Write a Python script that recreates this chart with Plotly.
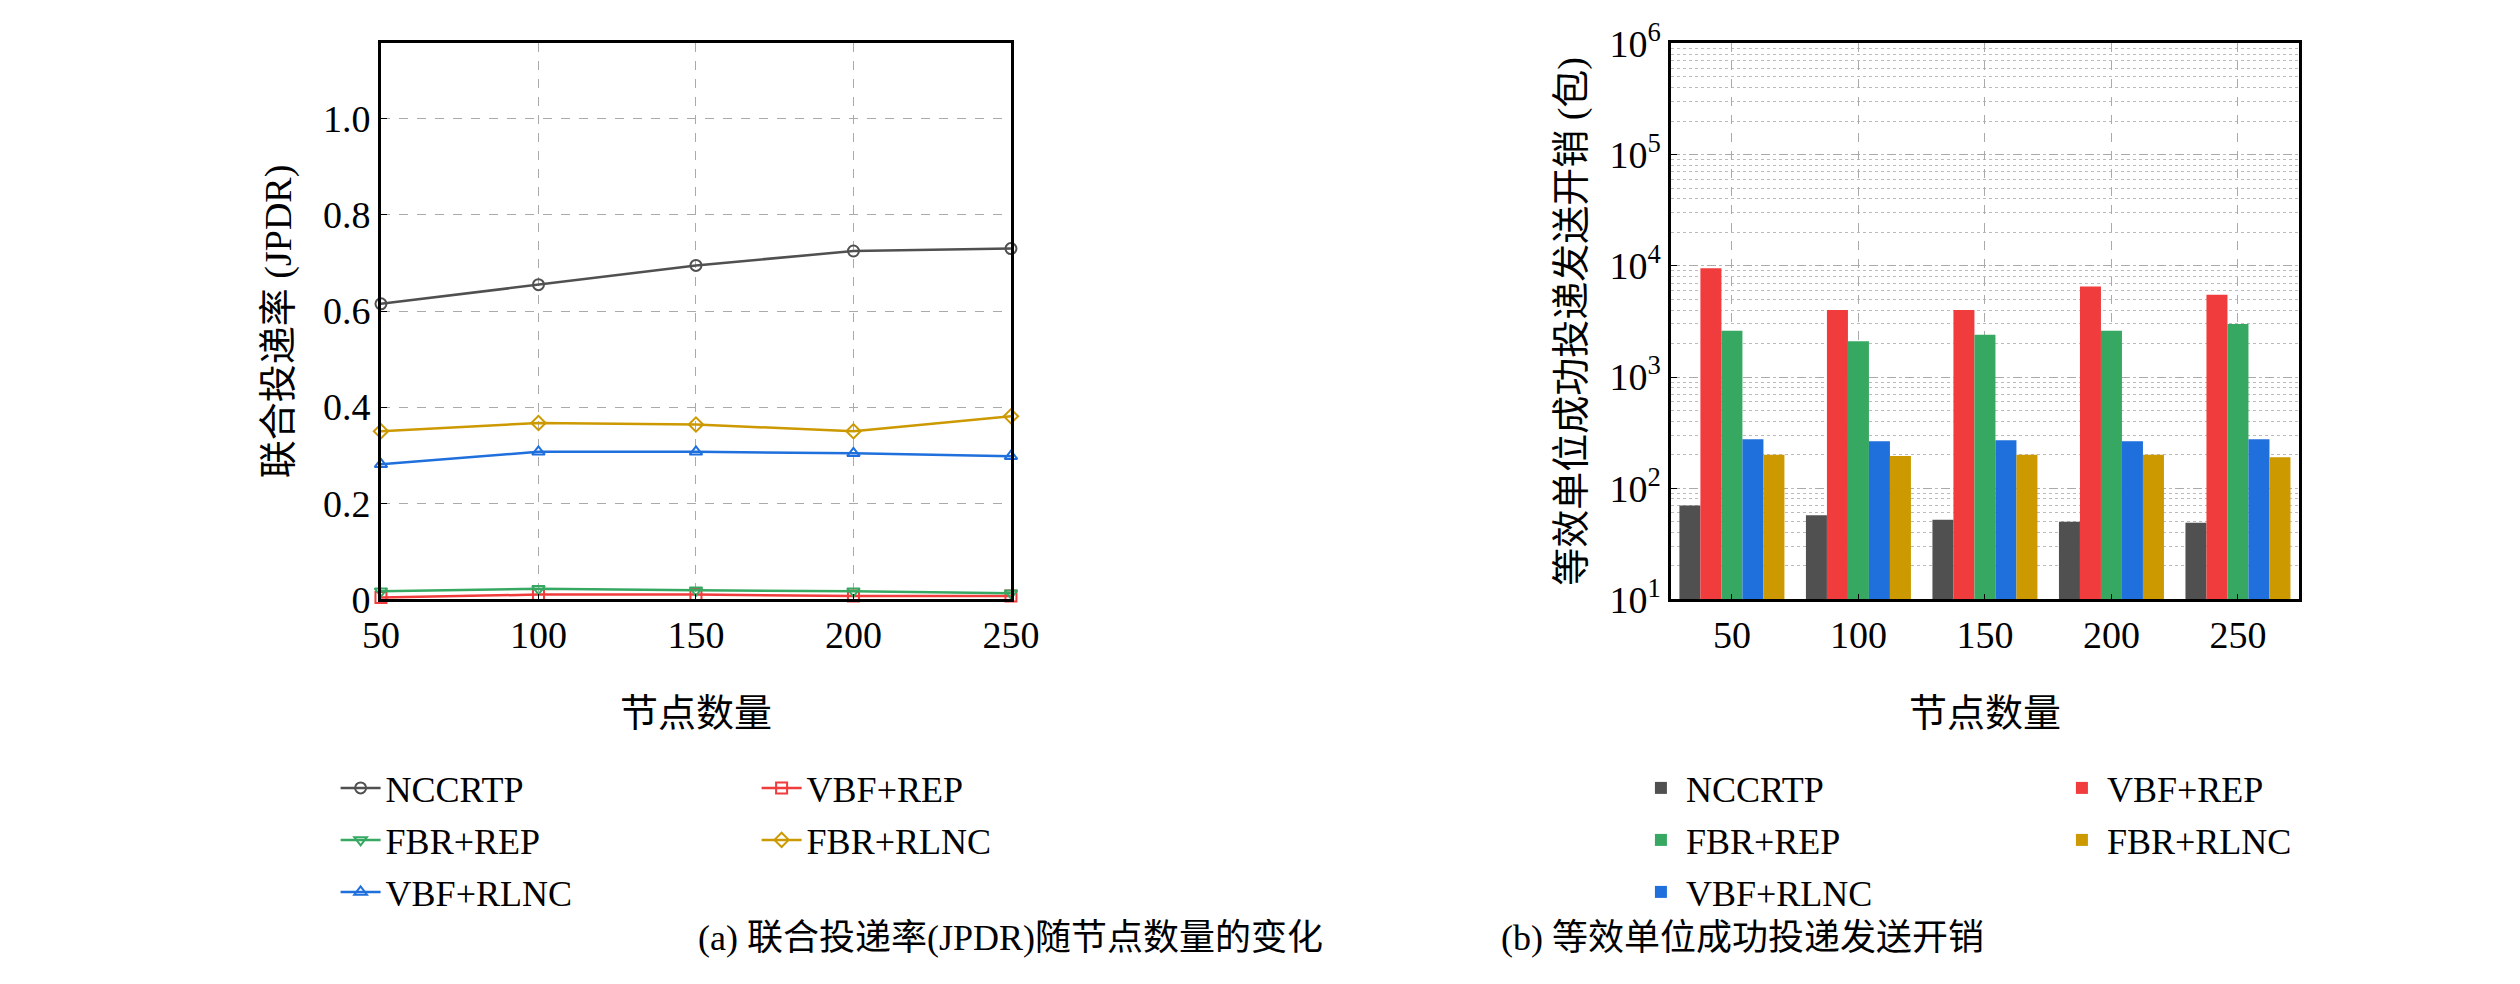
import plotly.graph_objects as go

nodes = [50, 100, 150, 200, 250]
series = ['NCCRTP', 'VBF+REP', 'FBR+REP', 'FBR+RLNC', 'VBF+RLNC']
jpdr = {
    'NCCRTP': [0.615, 0.655, 0.695, 0.725, 0.730],
    'VBF+REP': [0.004, 0.010, 0.010, 0.007, 0.007],
    'FBR+REP': [0.017, 0.022, 0.019, 0.017, 0.013],
    'FBR+RLNC': [0.350, 0.367, 0.364, 0.350, 0.381],
    'VBF+RLNC': [0.281, 0.307, 0.307, 0.304, 0.298],
}
cost = {
    'NCCRTP': [70, 57, 52, 50, 49],
    'VBF+REP': [9500, 4000, 4000, 6500, 5500],
    'FBR+REP': [2600, 2100, 2400, 2600, 3000],
    'VBF+RLNC': [275, 265, 270, 265, 275],
    'FBR+RLNC': [200, 195, 200, 200, 190],
}
bar_order = ['NCCRTP', 'VBF+REP', 'FBR+REP', 'VBF+RLNC', 'FBR+RLNC']
colors = {'NCCRTP': '#505050', 'VBF+REP': '#f03c3c', 'FBR+REP': '#36a862',
          'FBR+RLNC': '#cc9900', 'VBF+RLNC': '#1f6fdc'}
symbols = {'NCCRTP': 'circle-open', 'VBF+REP': 'square-open', 'FBR+REP': 'triangle-down-open',
           'FBR+RLNC': 'diamond-open', 'VBF+RLNC': 'triangle-up-open'}
# legend rows (left: line chart, right: bars)
rows_l = {'NCCRTP': 'legend', 'VBF+REP': 'legend', 'FBR+REP': 'legend2',
          'FBR+RLNC': 'legend2', 'VBF+RLNC': 'legend3'}
rows_r = {'NCCRTP': 'legend4', 'VBF+REP': 'legend4', 'FBR+REP': 'legend5',
          'FBR+RLNC': 'legend5', 'VBF+RLNC': 'legend6'}
row_order = ['NCCRTP', 'VBF+REP', 'FBR+REP', 'FBR+RLNC', 'VBF+RLNC']

FONT = 'Liberation Serif, Noto Sans CJK SC'
fig = go.Figure()
for s in row_order:
    fig.add_trace(go.Scatter(x=nodes, y=jpdr[s], name=s, mode='lines+markers',
                             line=dict(color=colors[s], width=2.5),
                             marker=dict(symbol=symbols[s], size=11, color=colors[s],
                                         line=dict(width=2, color=colors[s])),
                             cliponaxis=False, xaxis='x', yaxis='y', legend=rows_l[s]))
for s in bar_order:
    fig.add_trace(go.Bar(x=nodes, y=cost[s], name=s, marker_color=colors[s],
                         marker_line_width=0, xaxis='x2', yaxis='y2', legend=rows_r[s]))

ax = dict(showline=True, linecolor='black', linewidth=2.5, mirror=True, ticks='inside',
          tickcolor='black', ticklen=6, tickfont=dict(size=38, family=FONT, color='black'),
          gridcolor='#aaaaaa', griddash='dash', gridwidth=1.2, zeroline=False, automargin=False,
          title_font=dict(size=38, family=FONT, color='black'))
fig.update_layout(
    width=2520, height=984, margin=dict(l=0, r=0, t=0, b=0, autoexpand=False),
    plot_bgcolor='white', paper_bgcolor='white', barmode='group', bargap=0.17, bargroupgap=0,
    font=dict(family=FONT, color='black'),
    xaxis=dict(ax, domain=[0.148, 0.398], anchor='y', range=[50, 250], tickvals=nodes,
               title=dict(text='节点数量', standoff=45)),
    yaxis=dict(ax, domain=[0.399, 0.964], anchor='x', range=[0, 1.157],
               tickvals=[0, 0.2, 0.4, 0.6, 0.8, 1.0], ticktext=['0', '0.2', '0.4', '0.6', '0.8', '1.0'],
               title=dict(text='联合投递率 (JPDR)', standoff=20)),
    xaxis2=dict(ax, domain=[0.660, 0.909], anchor='y2', range=[26, 274], tickvals=nodes,
                title=dict(text='节点数量', standoff=45)),
    yaxis2=dict(ax, domain=[0.399, 0.964], anchor='x2', type='log', range=[1, 6],
                tickvals=[10, 100, 1000, 1e4, 1e5, 1e6],
                ticktext=['10<sup>1</sup>', '10<sup>2</sup>', '10<sup>3</sup>',
                          '10<sup>4</sup>', '10<sup>5</sup>', '10<sup>6</sup>'],
                minor=dict(dtick='D1', showgrid=True, gridcolor='#bbbbbb', griddash='dot', ticks=''),
                title=dict(text='等效单位成功投递发送开销 (包)', standoff=14)),
)
leg = dict(orientation='h', entrywidth=366, entrywidthmode='pixels', xanchor='left', yanchor='middle',
           font=dict(size=36, family=FONT, color='black'), bgcolor='rgba(0,0,0,0)', itemwidth=40)
ys = [1 - 780 / 984, 1 - 832 / 984, 1 - 884 / 984]
for i, y in enumerate(ys):
    fig.update_layout({('legend' if i == 0 else f'legend{i + 1}'): dict(leg, x=0.130, y=y)})
    fig.update_layout({f'legend{i + 4}': dict(leg, x=0.646, y=y)})

fig.add_annotation(text='(a) 联合投递率(JPDR)随节点数量的变化', x=0.273, y=1 - 952 / 984,
                   xref='paper', yref='paper', showarrow=False, font=dict(size=36, family=FONT))
fig.add_annotation(text='(b) 等效单位成功投递发送开销', x=0.785, y=1 - 952 / 984,
                   xref='paper', yref='paper', showarrow=False, font=dict(size=36, family=FONT))
fig.write_html('out.html')
